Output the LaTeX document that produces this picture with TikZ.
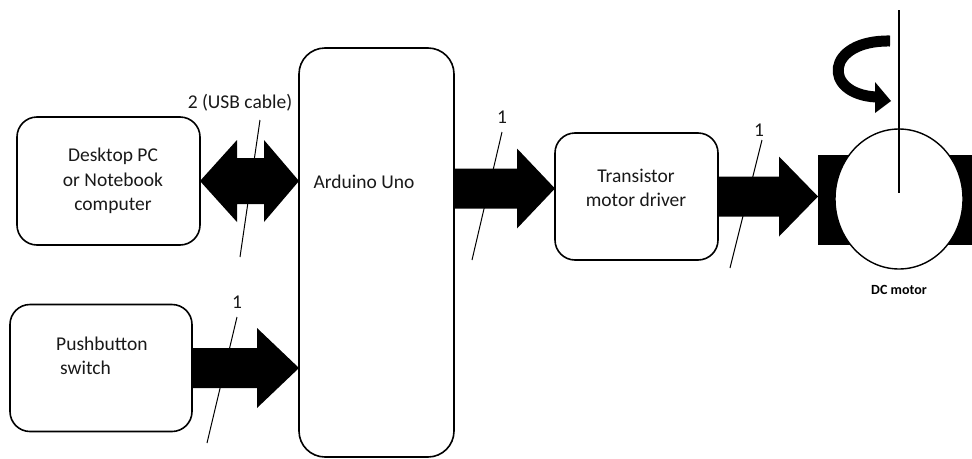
\documentclass[tikz,border=0pt]{standalone}
\usepackage{fontspec}
\setmainfont{Carlito}
\usetikzlibrary{calc,shapes.geometric}
\tikzset{
  blockbox/.style={draw, line width=1.6pt, rounded corners=20pt, inner sep=0pt, outer sep=0pt},
  blocktext/.style={font=\fontsize{19.5}{24.5}\selectfont, align=center, inner sep=0pt, text=black!90},
  numlabel/.style={font=\fontsize{19.5}{22}\selectfont, inner sep=0pt, text=black!90},
  slash/.style={line width=1pt},
}
% #1 start, #2 tip, #3 shaft half width, #4 head half width, #5 head length
\newcommand{\fatarrow}[5]{%
  \fill ($(#1)+(0,#3)$) -- ($(#2)+(-#5,#3)$) -- ($(#2)+(-#5,#4)$) -- (#2)
     -- ($(#2)+(-#5,-#4)$) -- ($(#2)+(-#5,-#3)$) -- ($(#1)+(0,-#3)$) -- cycle;}
\begin{document}
\begin{tikzpicture}[x=1pt,y=-1pt]
\useasboundingbox (0,0) rectangle (972,458);
% boxes
\node[blockbox, minimum width=183pt, minimum height=128pt] (pc) at (108.5,181) {};
\node[blocktext] (pctext) at (113,181) {Desktop PC\\or Notebook\\computer};
\node[blockbox, minimum width=182pt, minimum height=127pt] (pb) at (101,368) {};
\node[blocktext, align=left, anchor=west] (pbtext) at (56,356) {Pushbutton\\\hspace*{4pt}switch};
\node[blockbox, rounded corners=26pt, minimum width=155pt, minimum height=409pt] (ard) at (376.5,252.5) {};
\node[blocktext] (ardtext) at (364,182) {Arduino Uno};
\node[blockbox, minimum width=163pt, minimum height=127pt] (tr) at (636.5,196.5) {};
\node[blocktext] (trtext) at (636,188) {Transistor\\motor driver};
% motor
\node[fill=black, minimum width=160pt, minimum height=90pt, inner sep=0pt, outer sep=0pt, anchor=west] (mrect) at (818,200) {};
\node[draw, fill=white, line width=1.4pt, ellipse, minimum width=128pt, minimum height=140pt, inner sep=0pt] (motor) at (899,199) {};
\coordinate (shafttop) at (899,10);
\draw[line width=1.2pt] (shafttop) -- ($(motor.center)+(0,-6)$);
\node[font=\bfseries\fontsize{14}{16}\selectfont, inner sep=0pt] (mlabel) at (899,290) {DC motor};
% rotation arrow
\coordinate (rotA) at (890,41);
\coordinate (rotB) at (876,97);
\draw[line width=11pt] (rotA) .. controls (825,40) and (822,94) .. (rotB);
\fill (875,82) -- (891,101) -- (875,113) -- cycle;
% fat arrows
\coordinate (a1s) at (pc.east);
\coordinate (a1e) at (ard.west |- pc.east);
\fill ($(a1s)+(0,0)$) -- ($(a1s)+(37,-41)$) -- ($(a1s)+(37,-23)$) -- ($(a1e)+(-35,-23)$) -- ($(a1e)+(-35,-41)$) -- (a1e)
  -- ($(a1e)+(-35,41)$) -- ($(a1e)+(-35,23)$) -- ($(a1s)+(37,23)$) -- ($(a1s)+(37,41)$) -- cycle;
\coordinate (a2s) at (pb.east);
\coordinate (a2e) at (ard.west |- pb.east);
\fatarrow{a2s}{a2e}{20}{40}{42}
\coordinate (a3e) at ($(tr.west)+(0,-8)$);
\coordinate (a3s) at (ard.east |- a3e);
\fatarrow{a3s}{a3e}{20}{40}{38}
\coordinate (a4s) at (tr.east);
\coordinate (a4e) at (mrect.west |- tr.east);
\fatarrow{a4s}{a4e}{20}{40}{39}
% slashes and labels
\coordinate (s1a) at (240,257); \coordinate (s1b) at (260,120);
\draw[slash] (s1a) -- (s1b);
\node[numlabel] (l1) at (240,103) {2 (USB cable)};
\coordinate (s2a) at (207,443); \coordinate (s2b) at (237,317);
\draw[slash] (s2a) -- (s2b);
\node[numlabel] (l2) at (237,302) {1};
\coordinate (s3a) at (472,260); \coordinate (s3b) at (502,132);
\draw[slash] (s3a) -- (s3b);
\node[numlabel] (l3) at (502,117) {1};
\coordinate (s4a) at (730,268); \coordinate (s4b) at (762,140);
\draw[slash] (s4a) -- (s4b);
\node[numlabel] (l4) at (759,130) {1};
\end{tikzpicture}
\end{document}
